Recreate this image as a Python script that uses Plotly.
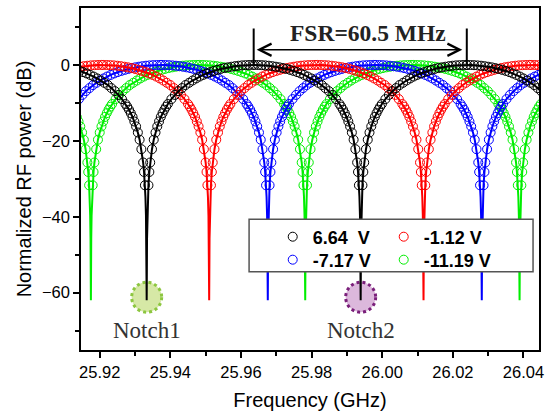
import plotly.graph_objects as go

# ---------------- data ----------------
FSR_MHZ = 60.5
series_names = ["6.64\u00a0 V", "-1.12 V", "-7.17 V", "-11.19 V"]
series_colors = ["#000000", "#ff0000", "#0000ff", "#00ee00"]
series_legend = ["legend", "legend", "legend2", "legend2"]

# notch centre frequencies (GHz), incl. neighbours just outside the window
notch_black = [25.8728, 25.9333, 25.9939, 26.0540]
notch_red = [25.8905, 25.9510, 26.0117, 26.0722]
notch_blue = [25.9071, 25.9676, 26.0282, 26.0887]
notch_green = [25.8570, 25.9175, 25.9782, 26.0389, 26.0994]

# fitted notch profile: offset from notch centre (MHz) -> power (dB)
fit_offset = [0, 0.1, 0.2, 0.35, 0.5, 0.75, 1, 1.5, 2, 2.5, 3, 4, 5, 6, 7, 8, 9, 10,
              11, 12, 13, 14, 15, 16, 17, 18, 19, 20, 21, 22, 23, 24, 25, 26, 27,
              28, 29, 30, 30.25]
fit_db = [-62, -45.7, -39.7, -34.8, -31.7, -28.2, -25.7, -22.2, -19.7, -17.8, -16.2,
          -13.7, -11.8, -10.3, -9.0, -7.9, -6.9, -6.1, -5.3, -4.7, -4.1, -3.55, -3.06,
          -2.63, -2.24, -1.89, -1.58, -1.30, -1.05, -0.82, -0.63, -0.47, -0.33, -0.21,
          -0.12, -0.06, -0.02, 0.0, 0.0]

# measured points around each notch: offset (MHz) -> power (dB)
meas_offset = [0.5, 0.75, 1, 1.5, 2, 2.5, 3, 3.5, 4, 4.5, 5, 5.5, 6, 7, 8, 9, 10, 11,
               12, 13, 14, 15, 16, 17, 18, 19, 20, 21, 22, 23, 24, 25, 26, 27, 28, 29, 30]
meas_db = [-31.7, -28.2, -25.7, -22.2, -19.7, -17.8, -16.2, -14.9, -13.7, -12.7, -11.8,
           -11.0, -10.3, -9.0, -7.9, -6.9, -6.1, -5.3, -4.7, -4.1, -3.55, -3.06, -2.63,
           -2.24, -1.89, -1.58, -1.30, -1.05, -0.82, -0.63, -0.47, -0.33, -0.21, -0.12,
           -0.06, -0.02, 0.0]

x_ticks = [25.92, 25.94, 25.96, 25.98, 26.00, 26.02, 26.04]
y_ticks = [0, -20, -40, -60]
x_range = [25.9147, 26.0444]
y_range = [-75.1, 15]


def build(centers, offs, vals):
    xs, ys = [], []
    for c in centers:
        for o, v in zip(reversed(offs), reversed(vals)):
            if o == 0:
                continue
            xs.append(c - o / 1000.0)
            ys.append(v)
        for o, v in zip(offs, vals):
            xs.append(c + o / 1000.0)
            ys.append(v)
    return xs, ys


all_notches = [notch_black, notch_red, notch_blue, notch_green]
fig = go.Figure()

draw_order = [3, 2, 1, 0]  # green, blue, red, black on top
legend_rank = {0: 1, 1: 2, 2: 1, 3: 2}
for i in draw_order:
    mx, my = build(all_notches[i], meas_offset, meas_db)
    fig.add_trace(go.Scatter(
        x=mx, y=my, mode="markers", name=series_names[i],
        legend=series_legend[i], legendrank=legend_rank[i],
        marker=dict(symbol="circle-open", size=9, color=series_colors[i],
                    line=dict(width=1, color=series_colors[i])),
        hoverinfo="skip"))
    fx, fy = build(all_notches[i], fit_offset, fit_db)
    fig.add_trace(go.Scatter(
        x=fx, y=fy, mode="lines", showlegend=False,
        line=dict(color=series_colors[i], width=2), hoverinfo="skip"))

# FSR marker lines at the black peaks
fsr_left = (notch_black[1] + notch_black[2]) / 2
fsr_right = (notch_black[2] + notch_black[3]) / 2
shapes = []
for xv in (fsr_left, fsr_right):
    shapes.append(dict(type="line", xref="x", yref="y", x0=xv, x1=xv, y0=0.2, y1=9.6,
                       line=dict(color="black", width=2)))

# legend box
shapes.append(dict(type="rect", xref="paper", yref="paper", x0=0.367, x1=0.987,
                   y0=0.2286, y1=0.3825, fillcolor="white",
                   line=dict(color="#555555", width=1.5), layer="above"))

# notch highlight circles
notch_marks = [(notch_black[1], "#d6e8a6", "#8cc63f", "Notch1"),
               (notch_black[2], "#dcb8dc", "#7a1f7a", "Notch2")]
for xc, fill, edge, label in notch_marks:
    shapes.append(dict(type="circle", xref="x", yref="y", xsizemode="pixel",
                       ysizemode="pixel", xanchor=xc, yanchor=-61.2,
                       x0=-15, x1=15, y0=-15, y1=15, fillcolor=fill,
                       line=dict(color=edge, width=3, dash="dot"), layer="below"))
    fig.add_annotation(x=xc, y=-70, xref="x", yref="y", text=label, showarrow=False,
                       font=dict(family="Times New Roman, Liberation Serif, serif",
                                 size=23, color="#333333"))

fig.add_annotation(x=fsr_left, y=4, ax=fsr_right, ay=4, xref="x", yref="y",
                   axref="x", ayref="y", text="", showarrow=True,
                   arrowhead=5, startarrowhead=5, arrowside="end+start",
                   arrowwidth=1.5, arrowsize=1.6, arrowcolor="black",
                   standoff=3, startstandoff=3)
fig.add_annotation(x=(fsr_left + fsr_right) / 2, xshift=8, y=8.4, xref="x", yref="y",
                   text="FSR=%.1f MHz" % FSR_MHZ, showarrow=False,
                   font=dict(family="Times New Roman, Liberation Serif, serif",
                             size=23.5, color="#222222", weight="bold"))

axis_common = dict(showline=True, linecolor="black", linewidth=1.5, mirror=True,
                   ticks="outside", ticklen=6, tickwidth=1.5, tickcolor="black",
                   showgrid=False, zeroline=False, tickfont=dict(size=16.5))

fig.update_xaxes(range=x_range, tickmode="array", tickvals=x_ticks,
                 ticktext=["%.2f" % v for v in x_ticks],
                 title=dict(text="Frequency (GHz)", font=dict(size=20), standoff=13),
                 minor=dict(ticks="outside", ticklen=4, tickwidth=1.5, tickcolor="black",
                            dtick=0.01, tick0=25.92, showgrid=False),
                 **axis_common)
fig.update_yaxes(range=y_range, tickmode="array", tickvals=y_ticks,
                 title=dict(text="Normalized RF power (dB)", font=dict(size=20), standoff=5),
                 minor=dict(ticks="outside", ticklen=4, tickwidth=1.5, tickcolor="black",
                            dtick=10, tick0=0, showgrid=False),
                 **axis_common)

legend_common = dict(orientation="h", xanchor="left", yanchor="top",
                     bgcolor="rgba(0,0,0,0)", borderwidth=0, entrywidth=66,
                     font=dict(size=18, weight="bold",
                               family="Arial, Liberation Sans, sans-serif"))
fig.update_layout(
    width=548, height=412, margin=dict(l=81, r=9, t=8, b=62, autoexpand=False),
    plot_bgcolor="white", paper_bgcolor="white",
    font=dict(family="Arial, Liberation Sans, sans-serif", color="black"),
    shapes=shapes, showlegend=True,
    legend=dict(x=0.4186, y=0.3845, **legend_common),
    legend2=dict(x=0.4186, y=0.3173, **legend_common),
)

fig.write_html("out.html", config={"displayModeBar": False},
               post_script="document.body.style.margin='0';"
                           "document.body.style.overflow='hidden';")
